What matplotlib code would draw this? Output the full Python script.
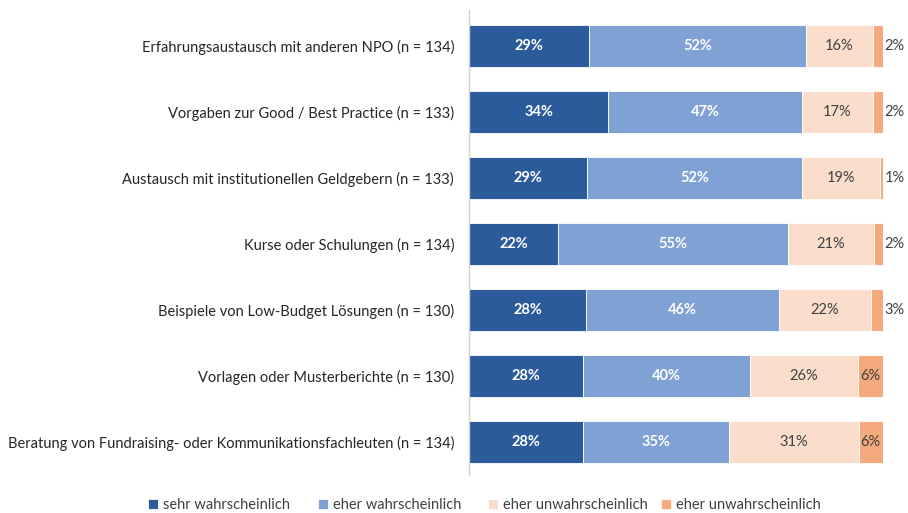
import matplotlib
matplotlib.use('Agg')
import matplotlib.pyplot as plt

plt.rcParams['font.family'] = ['Lato', 'DejaVu Sans']

categories = [
    'Erfahrungsaustausch mit anderen NPO (n = 134)',
    'Vorgaben zur Good / Best Practice (n = 133)',
    'Austausch mit institutionellen Geldgebern (n = 133)',
    'Kurse oder Schulungen (n = 134)',
    'Beispiele von Low-Budget Lösungen (n = 130)',
    'Vorlagen oder Musterberichte (n = 130)',
    'Beratung von Fundraising- oder Kommunikationsfachleuten (n = 134)',
]
series_names = ['sehr wahrscheinlich', 'eher wahrscheinlich',
                'eher unwahrscheinlich', 'eher unwahrscheinlich']

# bar widths (percent)
sehr_w = [28.9, 33.6, 28.5, 21.5, 28.2, 27.6, 27.6]
eher_w = [52.5, 46.8, 52.0, 55.5, 46.6, 40.2, 35.1]
eher_u = [16.3, 17.3, 18.8, 20.8, 22.3, 26.2, 31.5]
sehr_u = [2.3, 2.3, 0.7, 2.2, 2.9, 6.0, 5.8]

# printed labels
lab_sehr_w = [29, 34, 29, 22, 28, 28, 28]
lab_eher_w = [52, 47, 52, 55, 46, 40, 35]
lab_eher_u = [16, 17, 19, 21, 22, 26, 31]
lab_sehr_u = [2, 2, 1, 2, 3, 6, 6]

colors = ['#2C5B9B', '#7FA1D3', '#FADECB', '#F4AA7D']
text_colors = ['white', 'white', '#404040', '#404040']

fig = plt.figure(figsize=(9.08, 5.13), dpi=100)
ax = fig.add_axes([469.3 / 908, 38 / 513, 413.4 / 908, 465 / 513])

values = [sehr_w, eher_w, eher_u, sehr_u]
labels = [lab_sehr_w, lab_eher_w, lab_eher_u, lab_sehr_u]
ypos = list(range(len(categories)))
left = [0.0] * len(categories)
bars = []
for k in range(4):
    b = ax.barh(ypos, values[k], left=left, height=0.64, color=colors[k],
                edgecolor='white', linewidth=0.6, label=series_names[k])
    bars.append(b)
    for i in ypos:
        v = values[k][i]
        txt = '%d%%' % labels[k][i]
        if k == 3 and v < 5:
            ax.text(left[i] + v + 0.5, i, txt, ha='left', va='center',
                    fontsize=10.5, color=text_colors[k])
        else:
            ax.text(left[i] + v / 2, i, txt, ha='center', va='center',
                    fontsize=10.5, color=text_colors[k],
                    fontweight='bold' if k < 2 else 'normal')
    left = [left[i] + values[k][i] for i in ypos]

ax.set_xlim(0, 100)
ax.set_ylim(6.5, -0.54)
ax.set_yticks(ypos)
ax.set_yticklabels(categories, fontsize=10.5, color='#262626')
ax.tick_params(axis='y', length=0, pad=11)
ax.set_xticks([])
for s in ['top', 'right', 'bottom']:
    ax.spines[s].set_visible(False)
ax.spines['left'].set_color('#D0D0D0')
ax.spines['left'].set_linewidth(1.0)

# legend entries sit on a fixed grid, as in the original
leg_x = [148, 318, 488, 661]
for k in range(4):
    fig.legend([bars[k]], [series_names[k]], loc='center left',
               bbox_to_anchor=(leg_x[k] / 908, 1 - 505 / 513),
               frameon=False, fontsize=10.5, handlelength=0.7,
               handleheight=0.7, handletextpad=0.3, borderpad=0,
               borderaxespad=0, labelcolor='#404040')

fig.savefig('out.png', dpi=100)
